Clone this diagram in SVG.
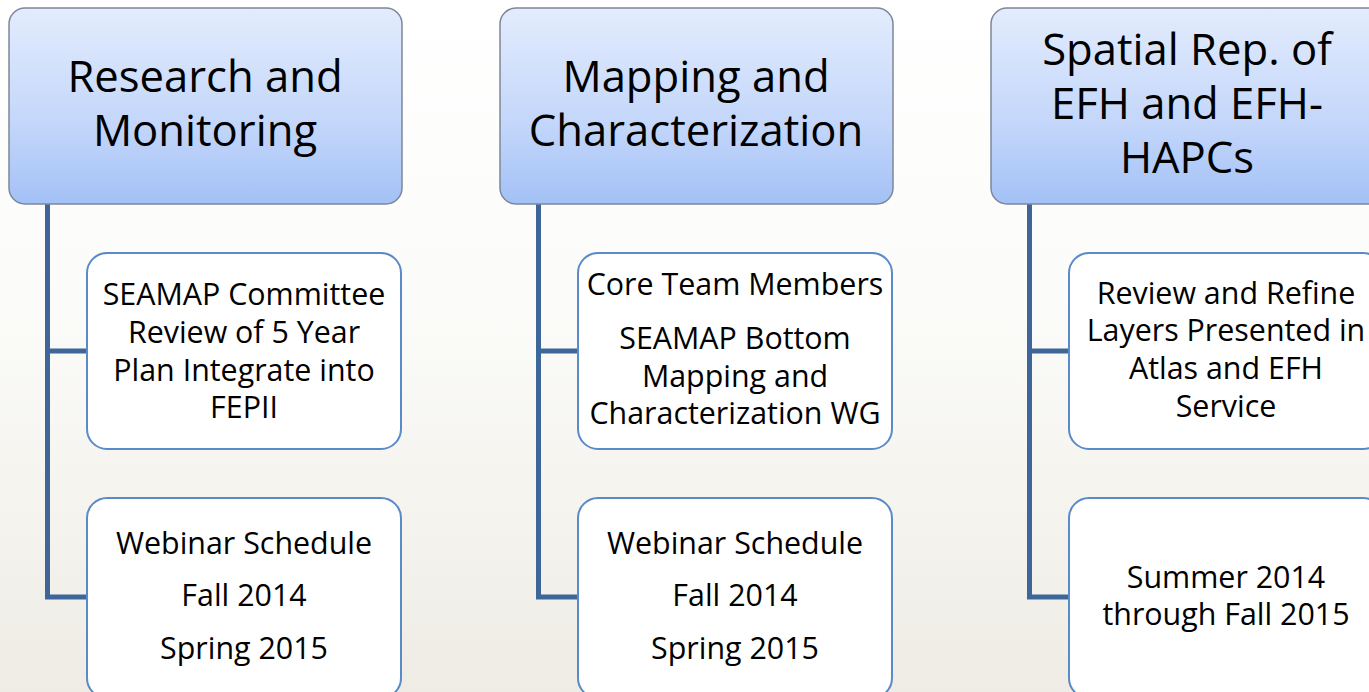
<svg xmlns="http://www.w3.org/2000/svg" width="1369" height="692" viewBox="0 0 1369 692">
<defs>
<linearGradient id="bg" x1="0" y1="0" x2="0" y2="1">
<stop offset="0" stop-color="#ffffff"/>
<stop offset="0.45" stop-color="#fbfbf9"/>
<stop offset="1" stop-color="#eeece4"/>
</linearGradient>
<linearGradient id="hdr" x1="0" y1="0" x2="0" y2="1">
<stop offset="0" stop-color="#e3ecfd"/>
<stop offset="0.6" stop-color="#c3d6fa"/>
<stop offset="1" stop-color="#a3c1f6"/>
</linearGradient>
<style>
.hdr{fill:url(#hdr);stroke:#7d8799;stroke-width:1.5}
.box{fill:#ffffff;stroke:#5a8ac8;stroke-width:2}
.ht{font-family:"Open Sans","Noto Sans",sans-serif;font-size:43.6px;fill:#000;text-anchor:middle}
.ct{font-family:"Open Sans","Noto Sans",sans-serif;font-size:30.4px;fill:#000;text-anchor:middle}
.conn{fill:none;stroke:#3f6699;stroke-width:5;stroke-linejoin:miter}
</style>
</defs>
<rect width="1369" height="692" fill="url(#bg)"/>
<g id="connectors">
<path class="conn" d="M47.5 204 V597 H88 M47.5 351 H88"/>
<path class="conn" d="M538.5 204 V597 H579 M538.5 351 H579"/>
<path class="conn" d="M1029.5 204 V597 H1070 M1029.5 351 H1070"/>
</g>
<g id="h1">
<rect class="hdr" x="9" y="8" width="393" height="196" rx="16"/>
<text class="ht" x="205" y="92">Research and</text>
<text class="ht" x="205" y="146">Monitoring</text>
</g>
<g id="h2">
<rect class="hdr" x="500" y="8" width="393" height="196" rx="16"/>
<text class="ht" x="696" y="92">Mapping and</text>
<text class="ht" x="696" y="146">Characterization</text>
</g>
<g id="h3">
<rect class="hdr" x="991" y="8" width="393" height="196" rx="16"/>
<text class="ht" x="1187" y="65">Spatial Rep. of</text>
<text class="ht" x="1187" y="119">EFH and EFH-</text>
<text class="ht" x="1187" y="173">HAPCs</text>
</g>
<g id="c1a">
<rect class="box" x="87" y="253" width="314" height="196" rx="20"/>
<text class="ct" x="244" y="305">SEAMAP Committee</text>
<text class="ct" x="244" y="343">Review of 5 Year</text>
<text class="ct" x="244" y="381">Plan Integrate into</text>
<text class="ct" x="244" y="418">FEPII</text>
</g>
<g id="c1b">
<rect class="box" x="87" y="498" width="314" height="200" rx="20"/>
<text class="ct" x="244" y="554">Webinar Schedule</text>
<text class="ct" x="244" y="606">Fall 2014</text>
<text class="ct" x="244" y="659">Spring 2015</text>
</g>
<g id="c2a">
<rect class="box" x="578" y="253" width="314" height="196" rx="20"/>
<text class="ct" x="735" y="295">Core Team Members</text>
<text class="ct" x="735" y="349">SEAMAP Bottom</text>
<text class="ct" x="735" y="387">Mapping and</text>
<text class="ct" x="735" y="424">Characterization WG</text>
</g>
<g id="c2b">
<rect class="box" x="578" y="498" width="314" height="200" rx="20"/>
<text class="ct" x="735" y="554">Webinar Schedule</text>
<text class="ct" x="735" y="606">Fall 2014</text>
<text class="ct" x="735" y="659">Spring 2015</text>
</g>
<g id="c3a">
<rect class="box" x="1069" y="253" width="314" height="196" rx="20"/>
<text class="ct" x="1226" y="304">Review and Refine</text>
<text class="ct" x="1226" y="341">Layers Presented in</text>
<text class="ct" x="1226" y="379">Atlas and EFH</text>
<text class="ct" x="1226" y="417">Service</text>
</g>
<g id="c3b">
<rect class="box" x="1069" y="498" width="314" height="200" rx="20"/>
<text class="ct" x="1226" y="588">Summer 2014</text>
<text class="ct" x="1226" y="625">through Fall 2015</text>
</g>
</svg>
